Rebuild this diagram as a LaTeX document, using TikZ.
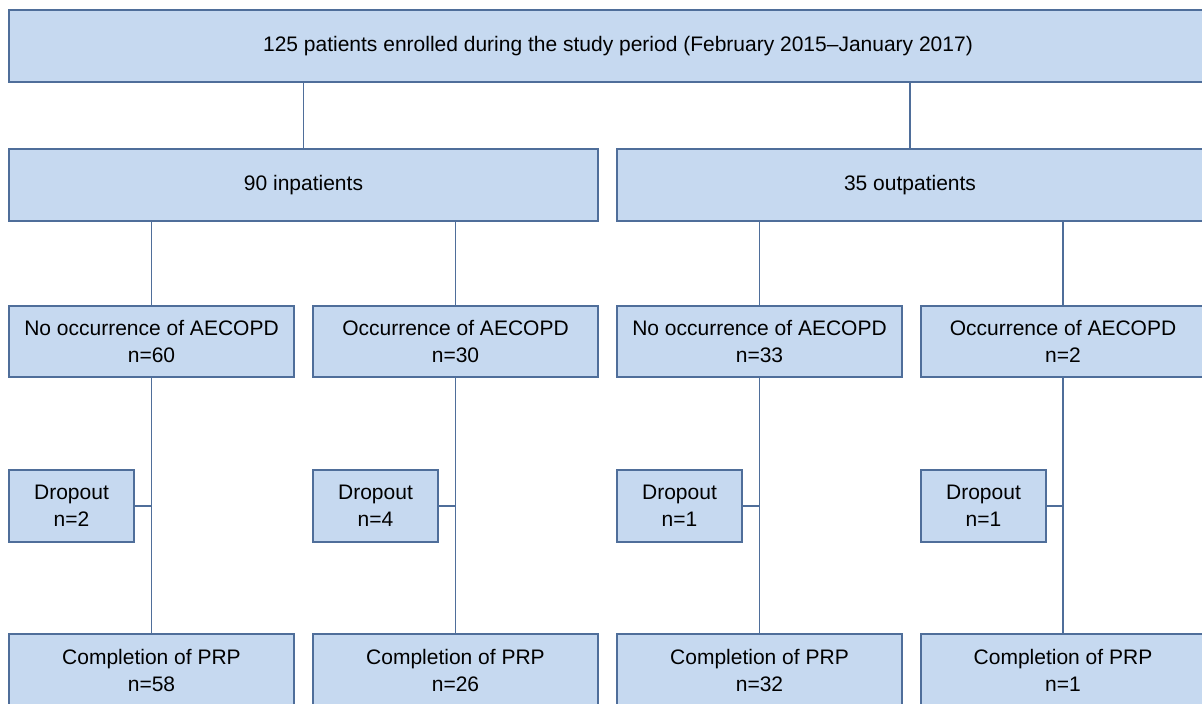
\documentclass[tikz,border=0pt]{standalone}
\usepackage{fontspec}
\setmainfont{Liberation Sans}
\definecolor{boxfill}{HTML}{C6D9F0}
\definecolor{boxline}{HTML}{4F6E9A}
\begin{document}
\begin{tikzpicture}[x=1pt,y=-1pt,
  fbox/.style={draw=boxline,fill=boxfill,line width=1.4pt,rectangle,inner sep=0pt,
    align=center,font=\fontsize{21}{27}\selectfont,text=black},
  conn/.style={draw=boxline,line width=1.5pt}]
\useasboundingbox (0,0) rectangle (1202,704);
\begin{scope}
\clip (0,0) rectangle (1202,704);
\node[fbox,minimum width=1218pt,minimum height=72pt] (top) at (618,46) {125 patients enrolled during the study period (February 2015--January 2017)};
\node[fbox,minimum width=589pt,minimum height=72pt] (inp) at (303.5,185) {90 inpatients};
\node[fbox,minimum width=586pt,minimum height=72pt] (outp) at (910,185) {35 outpatients};
\node[fbox,minimum width=285pt,minimum height=71pt] (a) at (151.5,341.5) {No occurrence of AECOPD\\n=60};
\node[fbox,minimum width=285pt,minimum height=71pt] (b) at (455.5,341.5) {Occurrence of AECOPD\\n=30};
\node[fbox,minimum width=285pt,minimum height=71pt] (c) at (759.5,341.5) {No occurrence of AECOPD\\n=33};
\node[fbox,minimum width=284pt,minimum height=71pt] (d) at (1063,341.5) {Occurrence of AECOPD\\n=2};
\node[fbox,minimum width=125pt,minimum height=72pt] (da) at (71.5,506) {Dropout\\n=2};
\node[fbox,minimum width=125pt,minimum height=72pt] (db) at (375.5,506) {Dropout\\n=4};
\node[fbox,minimum width=125pt,minimum height=72pt] (dc) at (679.5,506) {Dropout\\n=1};
\node[fbox,minimum width=125pt,minimum height=72pt] (dd) at (983.5,506) {Dropout\\n=1};
\node[fbox,minimum width=285pt,minimum height=72pt] (ea) at (151.5,670) {Completion of PRP\\n=58};
\node[fbox,minimum width=285pt,minimum height=72pt] (eb) at (455.5,670) {Completion of PRP\\n=26};
\node[fbox,minimum width=285pt,minimum height=72pt] (ec) at (759.5,670) {Completion of PRP\\n=32};
\node[fbox,minimum width=284pt,minimum height=72pt] (ed) at (1063,670) {Completion of PRP\\n=1};
\draw[conn] (inp.north |- top.south) -- (inp.north);
\draw[conn] (outp.north |- top.south) -- (outp.north);
\draw[conn] (a.north |- inp.south) -- (a.north);
\draw[conn] (b.north |- inp.south) -- (b.north);
\draw[conn] (c.north |- outp.south) -- (c.north);
\draw[conn] (d.north |- outp.south) -- (d.north);
\draw[conn] (a.south) -- (ea.north);
\draw[conn] (b.south) -- (eb.north);
\draw[conn] (c.south) -- (ec.north);
\draw[conn] (d.south) -- (ed.north);
\draw[conn] (da.east) -- (da.east -| a.south);
\draw[conn] (db.east) -- (db.east -| b.south);
\draw[conn] (dc.east) -- (dc.east -| c.south);
\draw[conn] (dd.east) -- (dd.east -| d.south);
\end{scope}
\end{tikzpicture}
\end{document}
